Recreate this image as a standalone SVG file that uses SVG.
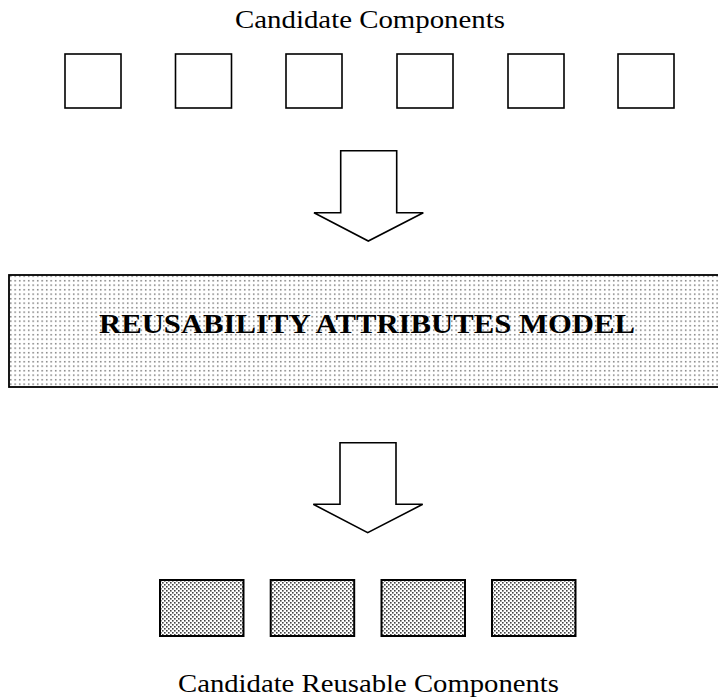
<svg xmlns="http://www.w3.org/2000/svg" width="718" height="700" viewBox="0 0 718 700">
  <style>
    .label { font-family: "Liberation Serif", "Times New Roman", serif; font-size: 26px; fill: #000; }
    .model { font-family: "Liberation Serif", "Times New Roman", serif; font-size: 28px; font-weight: bold; fill: #000; }
    .box { fill: #fff; stroke: #000; stroke-width: 1.6; }
    .rbox { fill: url(#stipple); stroke: #000; stroke-width: 2; }
    .band { fill: url(#grid); stroke: #000; stroke-width: 1.8; }
    .arrow { fill: #fff; stroke: #000; stroke-width: 1.6; stroke-linejoin: miter; }
  </style>
  <defs>
    <!-- light square grid of dots for the model band -->
    <pattern id="grid" width="4.5" height="4.5" patternUnits="userSpaceOnUse">
      <rect width="4.5" height="4.5" fill="#fff"/>
      <rect x="1" y="1" width="1.4" height="1.4" fill="#666"/>
    </pattern>
    <!-- denser diagonal stipple for the reusable components -->
    <pattern id="stipple" width="4" height="4" patternUnits="userSpaceOnUse">
      <rect width="4" height="4" fill="#fff"/>
      <rect x="0" y="0" width="1.6" height="1.6" fill="#444"/>
      <rect x="2" y="2" width="1.6" height="1.6" fill="#444"/>
    </pattern>
  </defs>

  <rect width="718" height="700" fill="#fff"/>

  <text class="label" x="370" y="28" text-anchor="middle" textLength="270" lengthAdjust="spacingAndGlyphs">Candidate Components</text>

  <g id="candidates">
    <rect id="c1" class="box" x="65" y="54" width="56" height="54"/>
    <rect id="c2" class="box" x="175.5" y="54" width="56" height="54"/>
    <rect id="c3" class="box" x="286" y="54" width="56" height="54"/>
    <rect id="c4" class="box" x="397" y="54" width="56" height="54"/>
    <rect id="c5" class="box" x="508" y="54" width="56" height="54"/>
    <rect id="c6" class="box" x="618" y="54" width="56" height="54"/>
  </g>

  <g id="connectors">
    <polygon id="arrow-in" class="arrow" points="340.7,150.7 396.7,150.7 396.7,212.7 423.3,212.7 368.3,241 314,212.7 340.7,212.7"/>
    <polygon id="arrow-out" class="arrow" points="340,442.7 396,442.7 396,504.3 422.7,504.3 367.7,532.7 313.3,504.3 340,504.3"/>
  </g>

  <g id="model">
    <rect class="band" x="9" y="275" width="720" height="112"/>
    <text class="model" x="367" y="333" text-anchor="middle" textLength="536" lengthAdjust="spacingAndGlyphs">REUSABILITY ATTRIBUTES MODEL</text>
  </g>

  <g id="reusable">
    <rect id="r1" class="rbox" x="160" y="580" width="83.5" height="56"/>
    <rect id="r2" class="rbox" x="270.7" y="580" width="83.5" height="56"/>
    <rect id="r3" class="rbox" x="381.5" y="580" width="83.5" height="56"/>
    <rect id="r4" class="rbox" x="492" y="580" width="83.5" height="56"/>
  </g>

  <text class="label" x="368.5" y="692" text-anchor="middle" textLength="381" lengthAdjust="spacingAndGlyphs">Candidate Reusable Components</text>
</svg>
